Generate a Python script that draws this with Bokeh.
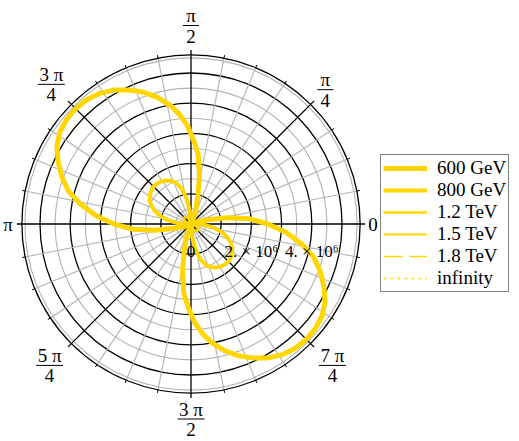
import numpy as np
from bokeh.plotting import figure
from bokeh.models import Legend, LegendItem, Range1d
from bokeh.core.properties import value
from bokeh.embed import file_html
from bokeh.resources import INLINE

# Polar lobes: angle in degrees, radius in units of 10^6.
# Every curve repeats point-symmetrically at angle + 180 degrees.
theta_600 = [64, 68, 72, 76, 80, 84, 88, 92, 96, 100, 105, 110, 115, 120, 125, 130,
             135, 140, 145, 150, 155, 160, 165, 170, 175, 180, 185, 190, 195, 200, 204]
r_600 = [0.0, 0.25, 0.55, 0.95, 1.6, 2.3, 2.75, 3.25, 3.65, 4.0, 4.35, 4.65, 4.9, 5.12, 5.28, 5.37,
         5.4, 5.38, 5.3, 5.13, 4.85, 4.55, 4.2, 3.7, 3.15, 2.55, 1.95, 1.2, 0.55, 0.2, 0.0]

theta_800 = [90, 95, 100, 105, 110, 115, 120, 125, 130, 135, 140, 145, 150, 155, 160, 165,
             170, 175, 180, 184]
r_800 = [0.0, 0.43, 0.86, 1.22, 1.45, 1.58, 1.66, 1.72, 1.75, 1.75, 1.72, 1.66, 1.58, 1.45, 1.28, 1.06,
         0.8, 0.5, 0.2, 0.0]

theta_1200 = [95, 105, 115, 125, 135, 145, 155, 165, 175]
r_1200 = [0.0, 0.12, 0.22, 0.29, 0.31, 0.29, 0.22, 0.12, 0.0]

theta_1500 = [100, 115, 125, 135, 145, 155, 170]
r_1500 = [0.0, 0.07, 0.1, 0.11, 0.1, 0.07, 0.0]

theta_1800 = [100, 115, 125, 135, 145, 155, 170]
r_1800 = [0.0, 0.04, 0.055, 0.06, 0.055, 0.04, 0.0]

theta_inf = [100, 115, 125, 135, 145, 155, 170]
r_inf = [0.0, 0.02, 0.028, 0.03, 0.028, 0.02, 0.0]

series_labels = ["600 GeV", "800 GeV", "1.2 TeV", "1.5 TeV", "1.8 TeV", "infinity"]

radial_tick_values = [0, 2, 4]
radial_tick_labels = ["0", "2. \u00d7 10\u2076", "4. \u00d7 10\u2076"]

angle_tick_numerators = ["0", "\u03c0", "\u03c0", "3 \u03c0", "\u03c0", "5 \u03c0", "3 \u03c0", "7 \u03c0"]
angle_tick_denominators = ["", "4", "2", "4", "", "4", "2", "4"]

# ---- layout ----
W, H = 519, 441
PX = 30.2                 # pixels per 10^6
CX, CY = 190.5, 223.5     # pole position on the canvas
R_OUT = 5.6
GOLD = "#FFD600"
GRAY = "#b2b2b2"
FONT = "Liberation Serif"
SERIF = value(FONT)
LABEL_SIZE = "19px"

p = figure(width=W, height=H,
           x_range=Range1d(-CX / PX, (W - CX) / PX),
           y_range=Range1d(-(H - CY) / PX, CY / PX),
           output_backend="svg", toolbar_location=None,
           x_axis_type=None, y_axis_type=None,
           min_border=0, outline_line_color=None,
           background_fill_color="white", border_fill_color="white")

# grid circles
gray_r = [0.5, 1.5, 2.5, 3.5, 4.5, 5.5]
p.circle(x=[0] * len(gray_r), y=[0] * len(gray_r), radius=gray_r,
         fill_color=None, line_color=GRAY, line_width=1.1)
black_r = [1, 2, 3, 4, 5]
p.circle(x=[0] * len(black_r), y=[0] * len(black_r), radius=black_r,
         fill_color=None, line_color="black", line_width=1.3)

# spokes every pi/16, black ones every pi/4
minor = np.radians([k * 11.25 for k in range(32) if k % 4 != 0])
p.segment(x0=0 * minor, y0=0 * minor, x1=R_OUT * np.cos(minor), y1=R_OUT * np.sin(minor),
          line_color=GRAY, line_width=1.1)
major = np.radians([k * 45.0 for k in range(8)])
r_major = R_OUT + 5 / PX
p.segment(x0=0 * major, y0=0 * major, x1=r_major * np.cos(major), y1=r_major * np.sin(major),
          line_color="black", line_width=1.3)

# outer frame with minor angular ticks
p.circle(x=[0], y=[0], radius=[R_OUT], fill_color=None, line_color="black", line_width=1.3)
r_tick = R_OUT + 3 / PX
p.segment(x0=R_OUT * np.cos(minor), y0=R_OUT * np.sin(minor),
          x1=r_tick * np.cos(minor), y1=r_tick * np.sin(minor),
          line_color="black", line_width=1)


def lobes(theta_deg, r):
    t = np.radians(np.asarray(theta_deg, dtype=float))
    rr = np.asarray(r, dtype=float)
    xs, ys = [], []
    for shift in (0.0, np.pi):
        xs.append(list(rr * np.cos(t + shift)))
        ys.append(list(rr * np.sin(t + shift)))
    return xs, ys


curve_data = [(theta_600, r_600), (theta_800, r_800), (theta_1200, r_1200),
              (theta_1500, r_1500), (theta_1800, r_1800), (theta_inf, r_inf)]
widths = [5, 4, 2.6, 2.2, 1.7, 1.7]
dashes = ["solid", "solid", "solid", "solid", "19 7", "3 4"]

renderers = []
for (th, rr), w, d in zip(curve_data, widths, dashes):
    xs, ys = lobes(th, rr)
    renderers.append(p.multi_line(xs=xs, ys=ys, line_color=GOLD, line_width=w,
                                  line_dash=d, line_join="round"))

# radial tick labels below the 0 spoke
p.text(x=radial_tick_values, y=[-27.5 / PX] * len(radial_tick_values), text=radial_tick_labels,
       text_font=SERIF, text_font_size="17px", text_align="center",
       text_baseline="alphabetic", text_color="black")

# angular tick labels (fractions of pi)
label_r_px = [182, 190, 198.5, 197.5, 183, 200, 195, 200]
ang = np.radians([k * 45.0 for k in range(8)])
bx = [r / PX * np.cos(a) for r, a in zip(label_r_px, ang)]
by = [r / PX * np.sin(a) for r, a in zip(label_r_px, ang)]

single_x = [x for x, d in zip(bx, angle_tick_denominators) if d == ""]
single_y = [y for y, d in zip(by, angle_tick_denominators) if d == ""]
single_t = [n for n, d in zip(angle_tick_numerators, angle_tick_denominators) if d == ""]
p.text(x=single_x, y=single_y, text=single_t, text_font=SERIF, text_font_size=LABEL_SIZE,
       text_align="center", text_baseline="middle", text_color="black")

fx = [x for x, d in zip(bx, angle_tick_denominators) if d != ""]
fy = [y for y, d in zip(by, angle_tick_denominators) if d != ""]
fnum = [n for n, d in zip(angle_tick_numerators, angle_tick_denominators) if d != ""]
fden = [d for d in angle_tick_denominators if d != ""]
p.text(x=fx, y=[y + 10 / PX for y in fy], text=fnum, text_font=SERIF, text_font_size=LABEL_SIZE,
       text_align="center", text_baseline="middle", text_color="black")
p.text(x=fx, y=[y - 10.5 / PX for y in fy], text=fden, text_font=SERIF, text_font_size=LABEL_SIZE,
       text_align="center", text_baseline="middle", text_color="black")
half = [(8 if len(n) == 1 else 13.5) / PX for n in fnum]
p.segment(x0=[x - h for x, h in zip(fx, half)], y0=fy,
          x1=[x + h for x, h in zip(fx, half)], y1=fy,
          line_color="black", line_width=1)

legend = Legend(items=[LegendItem(label=lab, renderers=[r]) for lab, r in zip(series_labels, renderers)],
                location=(380, H - 292), orientation="vertical", margin=0, padding=2,
                spacing=0, glyph_width=44, glyph_height=20, label_height=21, label_standoff=10,
                label_text_font=FONT, label_text_font_size=LABEL_SIZE, label_text_color="black",
                border_line_color="black", border_line_width=1.3,
                background_fill_color="white", background_fill_alpha=1.0)
p.add_layout(legend)

open("out.html", "w").write(file_html(p, INLINE))
